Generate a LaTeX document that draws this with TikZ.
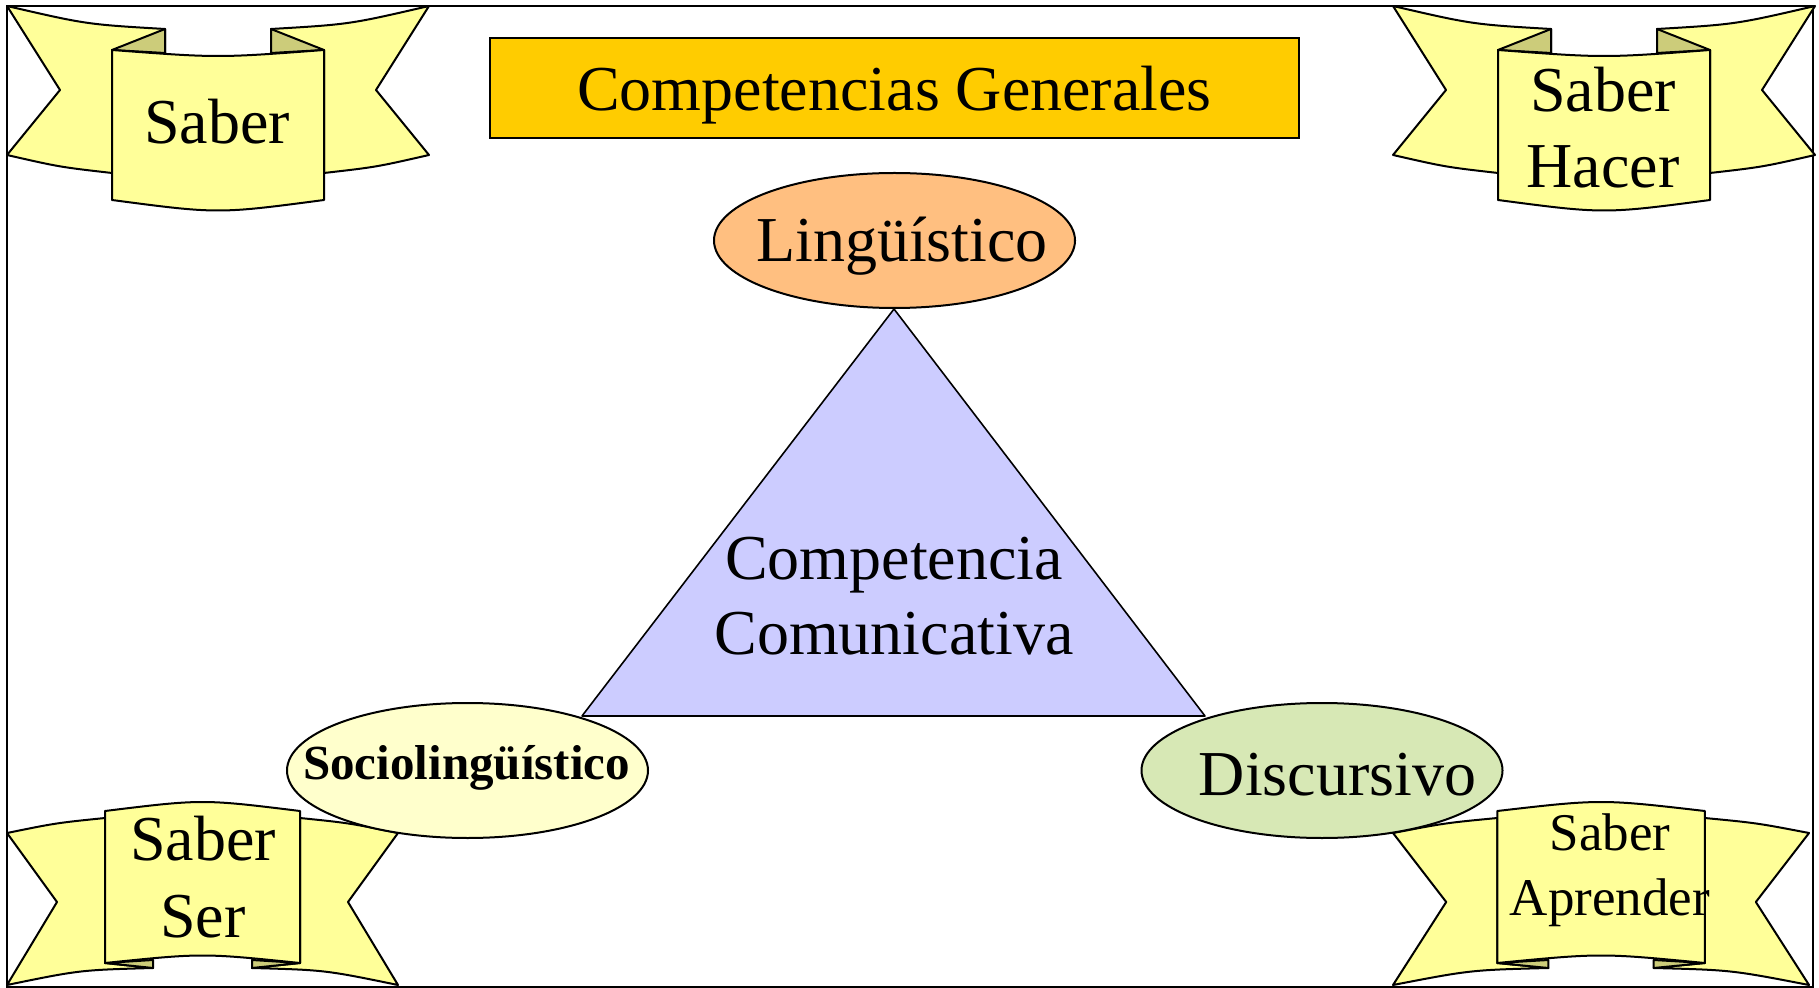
\documentclass[tikz,border=0pt]{standalone}
\usepackage{fontspec}
\setmainfont{Liberation Serif}
\usepackage{tikz}
\usetikzlibrary{shapes.geometric}
\definecolor{banner}{HTML}{FFFF99}
\definecolor{bannerfold}{HTML}{CCCC7A}
\definecolor{titlegold}{HTML}{FFCC00}
\definecolor{peach}{HTML}{FFBF80}
\definecolor{lilac}{HTML}{CCCCFF}
\definecolor{cream}{HTML}{FFFFCC}
\definecolor{sage}{HTML}{D7E8B5}
\tikzset{
  border/.style={draw=black, line width=0.8pt},
  ribbon/.style={draw=black, fill=banner, line width=1pt, line join=round},
  fold/.style={draw=black, fill=bannerfold, line width=1pt, line join=round},
  titlebox/.style={draw=black, fill=titlegold, line width=1pt, minimum width=404.5pt, minimum height=50pt, text depth=0pt},
  tri/.style={draw=black, fill=lilac, line width=0.8pt, line join=round},
  oval/.style={ellipse, draw=black, line width=1pt, minimum width=180.5pt, minimum height=67.5pt, inner sep=0pt},
  lab/.style={font=\fontsize{32pt}{38pt}\selectfont, align=center, anchor=base, inner sep=0pt},
  labs/.style={font=\fontsize{26.5pt}{32.5pt}\selectfont, align=center, anchor=base, inner sep=0pt},
  labb/.style={font=\fontsize{24.5pt}{30pt}\selectfont\bfseries, anchor=base, inner sep=0pt},
}
% banner pieces, local units = pixels, y downwards
\newcommand\bannerTopHalf{%
  \draw[ribbon] (0,0) .. controls (79.5,18.4) .. (158,23) -- (158,47) -- (105,44) -- (105,167)
    .. controls (52.5,161) .. (0,149) -- (53,84) -- cycle;
  \draw[fold] (105,44) -- (158,23) -- (158,47) -- cycle;
}
\newcommand\bannerTop{%
  \bannerTopHalf
  \begin{scope}[shift={(422,0)}, xscale=-1]\bannerTopHalf\end{scope}
  \draw[ribbon] (105,44) .. controls (211,52) .. (317,44) -- (317,194)
    .. controls (211,208) .. (105,194) -- cycle;
}
\newcommand\bannerBotHalf{%
  \draw[ribbon] (0,0) .. controls (49,-10) .. (98,-15) -- (98,130) -- (146,135)
    .. controls (73,137) .. (0,152) -- (50,69) -- cycle;
  \draw[fold] (98,130) -- (146,135) -- (146,127) -- cycle;
}
\newcommand\bannerBot{%
  \bannerBotHalf
  \begin{scope}[shift={(391,0)}, xscale=-1]\bannerBotHalf\end{scope}
  \draw[ribbon] (98,-22) .. controls (195.5,-34) .. (293,-22) -- (293,130)
    .. controls (195.5,120) .. (98,130) -- cycle;
}

\begin{document}
\begin{tikzpicture}[x=0.5pt, y=-0.5pt]
  \useasboundingbox (0,0) rectangle (1819,988);
  \draw[border] (7,6) rectangle (1813,987);

  % banners in the corners
  \begin{scope}[shift={(7,6)}]\bannerTop\end{scope}
  \begin{scope}[shift={(1393,6)}]\bannerTop\end{scope}
  \begin{scope}[shift={(7,833)}]\bannerBot\end{scope}
  \begin{scope}[shift={(1393,833)}, xscale=1.064]\bannerBot\end{scope}

  \node[titlebox] (title) at (894.5,88) {\fontsize{32pt}{38pt}\selectfont Competencias Generales};

  % triangle
  \coordinate (apex) at (894,309);
  \coordinate (left) at (582,716);
  \coordinate (right) at (1205,716);
  \draw[tri] (apex) -- (left) -- (right) -- cycle;

  \node[oval, fill=peach] (ling) at (894.5,240.5) {};
  \node[oval, fill=cream] (socio) at (467.5,770.5) {};
  \node[oval, fill=sage] (disc) at (1322,770.5) {};

  % multi-line labels sit on the baseline of their last line
  \node[lab] (lingtext) at (902,262) {Lingüístico};
  \node[labb] (sociotext) at (466.5,779) {Sociolingüístico};
  \node[lab] (disctext) at (1337.5,795) {Discursivo};
  \node[lab, font=\fontsize{32pt}{37.5pt}\selectfont] (comp) at (894,654) {Competencia\\Comunicativa};

  \node[lab] (saber) at (217,144) {Saber};
  \node[lab] (hacer) at (1603,188) {Saber\\Hacer};
  \node[lab, font=\fontsize{32pt}{38.5pt}\selectfont] (ser) at (203,937) {Saber\\Ser};
  \node[labs] (aprender) at (1610,915) {Saber\\Aprender};
\end{tikzpicture}
\end{document}
